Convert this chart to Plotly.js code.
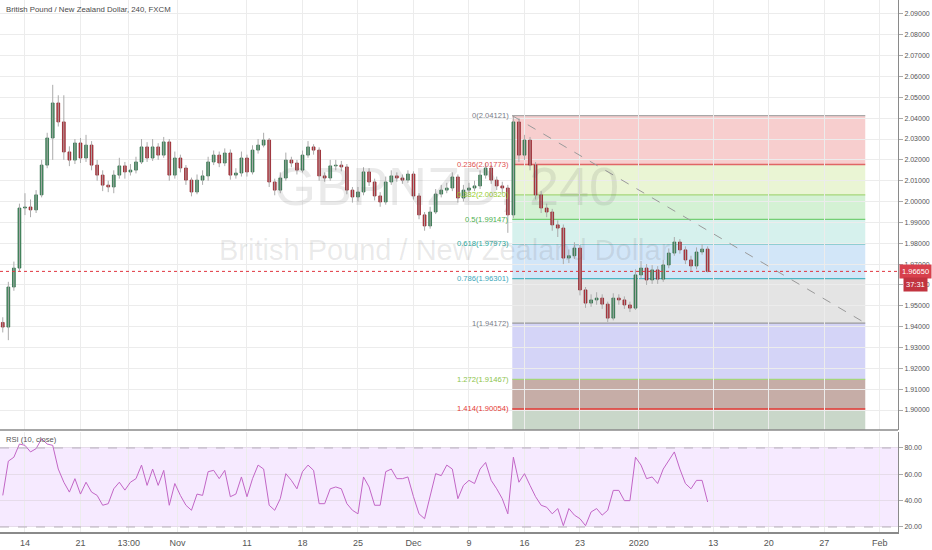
<!DOCTYPE html>
<html><head><meta charset="utf-8">
<script src="https://cdn.plot.ly/plotly-3.0.1.min.js"></script>
<style>html,body{margin:0;padding:0;background:#fff}#chart{width:932px;height:550px}</style>
</head><body><div id="chart"></div>
<script>
// ---- data (12h buckets) ----
const firstSlot = -4;
const openP = [
1.9420,1.9398,1.9590,1.9681,1.9969,1.9974,1.9960,2.0032,2.0175,2.0305,
2.0473,2.0382,2.0238,2.0199,2.0281,2.0209,2.0271,2.0175,2.0127,2.0079,
2.0070,2.0127,2.0171,2.0142,2.0151,2.0190,2.0262,2.0209,2.0262,2.0223,
2.0286,2.0127,2.0209,2.0161,2.0103,2.0046,2.0103,2.0123,2.0190,2.0223,
2.0185,2.0233,2.0127,2.0137,2.0209,2.0142,2.0247,2.0271,2.0295,2.0094,
2.0055,2.0113,2.0199,2.0185,2.0151,2.0223,2.0262,2.0247,2.0123,2.0113,
2.0171,2.0175,2.0166,2.0055,2.0022,2.0046,2.0142,2.0094,2.0027,1.9998,
2.0094,2.0123,2.0113,2.0103,2.0132,2.0027,1.9936,1.9883,1.9950,2.0036,
2.0055,2.0065,2.0118,2.0017,2.0055,2.0065,2.0075,2.0127,2.0161,2.0103,
2.0075,2.0065,1.9936,2.0382,2.0223,2.0295,2.0175,2.0032,1.9969,1.9950,
1.9888,1.9873,1.9729,1.9740,1.9777,1.9576,1.9513,1.9528,1.9537,1.9508,
1.9441,1.9537,1.9528,1.9504,1.9489,1.9648,1.9681,1.9624,1.9672,1.9628,
1.9696,1.9753,1.9806,1.9768,1.9720,1.9691,1.9758,1.9772];
const highP = [
1.9445,1.9615,1.9712,1.9990,2.0040,2.0010,2.0055,2.0200,2.0330,2.0560,
2.0510,2.0510,2.0265,2.0300,2.0305,2.0320,2.0290,2.0200,2.0150,2.0100,
2.0150,2.0210,2.0190,2.0180,2.0215,2.0300,2.0285,2.0300,2.0280,2.0310,
2.0300,2.0240,2.0225,2.0175,2.0115,2.0130,2.0150,2.0215,2.0245,2.0240,
2.0255,2.0250,2.0160,2.0240,2.0225,2.0270,2.0300,2.0330,2.0305,2.0110,
2.0140,2.0235,2.0215,2.0200,2.0245,2.0290,2.0275,2.0260,2.0140,2.0200,
2.0200,2.0195,2.0180,2.0070,2.0070,2.0165,2.0160,2.0110,2.0045,2.0120,
2.0150,2.0140,2.0130,2.0150,2.0145,2.0040,1.9950,1.9975,2.0060,2.0080,
2.0090,2.0140,2.0130,2.0080,2.0090,2.0100,2.0150,2.0185,2.0175,2.0120,
2.0095,2.0080,2.0412,2.0400,2.0320,2.0310,2.0190,2.0050,1.9990,1.9965,
1.9910,1.9890,1.9770,1.9805,1.9790,1.9590,1.9555,1.9565,1.9555,1.9520,
1.9560,1.9555,1.9545,1.9520,1.9675,1.9715,1.9700,1.9695,1.9690,1.9720,
1.9775,1.9830,1.9820,1.9785,1.9740,1.9780,1.9795,1.9785];
const lowP = [
1.9372,1.9335,1.9572,1.9665,1.9935,1.9925,1.9945,2.0020,2.0160,2.0200,
2.0360,2.0200,2.0170,2.0180,2.0185,2.0190,2.0150,2.0100,2.0050,2.0045,
2.0040,2.0110,2.0110,2.0125,2.0135,2.0180,2.0190,2.0195,2.0200,2.0210,
2.0100,2.0110,2.0140,2.0080,2.0025,2.0035,2.0080,2.0100,2.0175,2.0165,
2.0170,2.0105,2.0110,2.0120,2.0120,2.0130,2.0230,2.0260,2.0070,2.0030,
2.0040,2.0100,2.0165,2.0130,2.0140,2.0210,2.0225,2.0100,2.0095,2.0100,
2.0150,2.0145,2.0035,1.9995,2.0000,2.0030,2.0075,2.0005,1.9975,1.9985,
2.0080,2.0095,2.0085,2.0090,2.0010,1.9915,1.9860,1.9870,1.9940,2.0020,
2.0040,2.0050,1.9995,2.0000,2.0040,2.0050,2.0060,2.0110,2.0085,2.0055,
2.0040,1.9850,1.9920,2.0190,2.0200,2.0150,2.0010,1.9945,1.9925,1.9860,
1.9830,1.9700,1.9705,1.9725,1.9550,1.9490,1.9495,1.9505,1.9485,1.9422,
1.9430,1.9505,1.9485,1.9470,1.9480,1.9630,1.9600,1.9605,1.9605,1.9615,
1.9680,1.9740,1.9750,1.9700,1.9665,1.9675,1.9745,1.9660];
const closeP = [
1.9398,1.9590,1.9681,1.9969,1.9974,1.9960,2.0032,2.0175,2.0305,2.0473,
2.0382,2.0238,2.0199,2.0281,2.0209,2.0271,2.0175,2.0127,2.0079,2.0070,
2.0127,2.0171,2.0142,2.0151,2.0190,2.0262,2.0209,2.0262,2.0223,2.0286,
2.0127,2.0209,2.0161,2.0103,2.0046,2.0103,2.0123,2.0190,2.0223,2.0185,
2.0233,2.0127,2.0137,2.0209,2.0142,2.0247,2.0271,2.0295,2.0094,2.0055,
2.0113,2.0199,2.0185,2.0151,2.0223,2.0262,2.0247,2.0123,2.0113,2.0171,
2.0175,2.0166,2.0055,2.0022,2.0046,2.0142,2.0094,2.0027,1.9998,2.0094,
2.0123,2.0113,2.0103,2.0132,2.0027,1.9936,1.9883,1.9950,2.0036,2.0055,
2.0065,2.0118,2.0017,2.0055,2.0065,2.0075,2.0127,2.0161,2.0103,2.0075,
2.0065,1.9936,2.0382,2.0223,2.0295,2.0175,2.0032,1.9969,1.9950,1.9888,
1.9873,1.9729,1.9740,1.9777,1.9576,1.9513,1.9528,1.9537,1.9508,1.9441,
1.9537,1.9528,1.9504,1.9489,1.9648,1.9681,1.9624,1.9672,1.9628,1.9696,
1.9753,1.9806,1.9768,1.9720,1.9691,1.9758,1.9772,1.9665];
const rsiVals = [
44,70,73,83,82,77,79.5,87,83,82,
64,54,46.5,56.7,45,54,46.5,44,36.5,37.7,
49,54,48,54,56.7,67,51.6,64,51.6,63,
36.5,53,44,36.5,32.7,45,44,62,63,56.7,
63,43,45,58,43,56.7,67,64,36.5,32.7,
41.5,60.5,55.4,49,62,67,63,37.7,37.7,49,
50.4,49,37.7,32.7,30,58,50.4,36.5,36.5,62,
64,56.7,56.7,58,43,30,26.3,44,60.5,59,
67,64,41.5,51.6,55.4,53,64,69,55.4,49,
41.5,30,73,54,60.5,51.6,43,36.5,35,30,
34,21,34,29,26.3,21,31.4,34,29,32.7,
47.8,47.8,40,40,73,67,56.7,58,53,64,
70.6,77,64,53,49,55.4,55.4,39];
const tickSlots  = [0,10,18.7,27.5,40,50,60,70,80,90,100,110.6,124,134,144,154];
const tickLabels = ['14','21','13:00','Nov','11','18','25','Dec','9','16','23','2020','13','20','27','Feb'];
const fibRatios = [0,0.236,0.382,0.5,0.618,0.786,1,1.272,1.414,1.618];
const fibPrices = [2.04121,2.01773,2.00320,1.99147,1.97973,1.96301,1.94172,1.91467,1.90054,1.87906];
const fibStartSlot = 87.8, fibEndSlot = 151.4;
const lastPrice = 1.96650;
const countdown = '37:31';
const rsiBands = [20, 80];

// ---- styles ----
const FONT = 'Liberation Sans, Arial, sans-serif';
const fibFill = ['rgba(220,50,50,0.24)','rgba(149,204,40,0.2)','rgba(0,170,0,0.17)','rgba(0,170,140,0.16)',
  'rgba(30,130,220,0.2)','rgba(120,120,120,0.2)','rgba(60,60,220,0.22)','rgba(120,60,45,0.42)','rgba(60,110,60,0.28)'];
const fibLine = ['#a8a8a8','#e06666','#a5d67a','#74cf74','#4db6ac','#4db6c4','#9a9a9a','#a5d67a','#e53935'];
const fibText = ['#787b86','#e05050','#95cc28','#4caf50','#26a69a','#3aa6b9','#787b86','#8bc34a','#e53935'];
const upFill = '#3c8a5a', upLine = '#2b6b45', dnFill = '#bb2c36', dnLine = '#8e1f27';

const slots = closeP.map((_, i) => firstSlot + i);
const wx = [], wy = [];
slots.forEach((s, i) => { wx.push(s, s, null); wy.push(lowP[i], highP[i], null); });
const bodyBase = openP.map((o, i) => Math.min(o, closeP[i]));
const bodyLen = openP.map((o, i) => Math.max(Math.abs(closeP[i] - o), 0.0003));
const isUp = openP.map((o, i) => closeP[i] >= o);

const traces = [
  {type:'scatter', mode:'lines', x:wx, y:wy, line:{color:'#ababab', width:1}, hoverinfo:'skip', xaxis:'x', yaxis:'y'},
  {type:'bar', x:slots, y:bodyLen, base:bodyBase, width:0.5,
    marker:{color:isUp.map(u => u ? upFill : dnFill), line:{color:isUp.map(u => u ? upLine : dnLine), width:0.8}},
    xaxis:'x', yaxis:'y'},
  {type:'scatter', mode:'lines', x:slots, y:rsiVals, line:{color:'#c266c6', width:1}, xaxis:'x2', yaxis:'y2'}
];

const shapes = [];
const annotations = [];
for (let i = 0; i < 9; i++) {
  shapes.push({type:'rect', xref:'x', yref:'y', x0:fibStartSlot, x1:fibEndSlot, y0:fibPrices[i], y1:fibPrices[i+1],
    fillcolor:fibFill[i], line:{width:0}, layer:'below'});
}
for (let i = 0; i < 9; i++) {
  shapes.push({type:'line', xref:'x', yref:'y', x0:fibStartSlot, x1:fibEndSlot, y0:fibPrices[i], y1:fibPrices[i],
    line:{color:fibLine[i], width: (i===1||i===8) ? 1.5 : 1.2}, layer:'below'});
  annotations.push({xref:'x', yref:'y', x:fibStartSlot, y:fibPrices[i], xanchor:'right', yanchor:'middle', xshift:-1,
    text:`${fibRatios[i]}(${fibPrices[i].toFixed(5)})`, showarrow:false, font:{family:FONT, size:7.6, color:fibText[i]}});
}
shapes.push({type:'line', xref:'x', yref:'y', x0:fibStartSlot, x1:fibEndSlot, y0:fibPrices[0], y1:fibPrices[6],
  line:{color:'#9a9a9a', width:1, dash:'dash'}});
shapes.push({type:'rect', xref:'paper', yref:'y2', x0:0, x1:1, y0:rsiBands[0], y1:rsiBands[1],
  fillcolor:'rgba(153,21,255,0.09)', line:{width:0}, layer:'below'});
rsiBands.forEach(v => shapes.push({type:'line', xref:'paper', yref:'y2', x0:0, x1:1, y0:v, y1:v,
  line:{color:'#b8b0bc', width:1, dash:'dash'}}));
shapes.push({type:'line', xref:'paper', yref:'y', x0:0, x1:1, y0:lastPrice, y1:lastPrice,
  line:{color:'#e0353f', width:1, dash:'dot'}});
shapes.push({type:'line', xref:'paper', yref:'paper', x0:0, x1:1, y0:0.1917, y1:0.1917, line:{color:'#8a8a8a', width:1.5}});

annotations.push({xref:'paper', yref:'paper', x:0.497, y:0.650, text:'GBPNZD, 240', showarrow:false,
  font:{family:FONT, size:54, color:'rgba(90,90,90,0.13)'}});
annotations.push({xref:'paper', yref:'paper', x:0.496, y:0.530, text:'British Pound / New Zealand Dollar', showarrow:false,
  font:{family:FONT, size:29, color:'rgba(90,90,90,0.13)'}});
annotations.push({xref:'paper', yref:'paper', x:0.004, y:0.995, xanchor:'left', yanchor:'top',
  text:'British Pound / New Zealand Dollar, 240, FXCM', showarrow:false, font:{family:FONT, size:7.8, color:'#4a4a4a'}});
annotations.push({xref:'paper', yref:'paper', x:0.004, y:0.186, xanchor:'left', yanchor:'top',
  text:'RSI (10, close)', showarrow:false, font:{family:FONT, size:7.6, color:'#555'}});
annotations.push({xref:'paper', yref:'y', x:1, y:lastPrice, xanchor:'left', yanchor:'middle', xshift:1,
  text:lastPrice.toFixed(5), showarrow:false, bgcolor:'#d8404c', borderpad:2,
  font:{family:FONT, size:7.5, color:'#fff'}});
annotations.push({xref:'paper', yref:'y', x:1, y:lastPrice, xanchor:'left', yanchor:'middle', xshift:5, yshift:-13,
  text:countdown, showarrow:false, bgcolor:'#c23440', borderpad:2,
  font:{family:FONT, size:7.5, color:'#fff'}});

const grid = '#ececec';
const layout = {
  width:932, height:550, margin:{l:0, r:34, t:0, b:18},
  paper_bgcolor:'#fff', plot_bgcolor:'#fff', showlegend:false, barmode:'overlay',
  xaxis:{domain:[0,1], anchor:'y', range:[-4.5,157.3], tickvals:tickSlots, showticklabels:false,
    showgrid:true, gridcolor:grid, zeroline:false},
  xaxis2:{domain:[0,1], anchor:'y2', matches:'x', range:[-4.5,157.3], tickvals:tickSlots, ticktext:tickLabels,
    showgrid:true, gridcolor:grid, zeroline:false, showline:true, linecolor:'#8a8a8a', linewidth:1.5,
    tickfont:{family:FONT, size:9, color:'#555'}, ticks:'', ticklabelstandoff:2},
  yaxis:{domain:[0.1917,1], anchor:'x', side:'right', range:[1.8904,2.0967], tick0:1.9, dtick:0.01,
    tickformat:'.5f', showgrid:true, gridcolor:grid, zeroline:false, showline:true, linecolor:'#8a8a8a',
    ticks:'outside', ticklen:4, tickcolor:'#aaa', tickfont:{family:FONT, size:7, color:'#555'}},
  yaxis2:{domain:[0,0.188], anchor:'x2', side:'right', range:[16.2,92.15], tickvals:[20,40,60,80],
    tickformat:'.2f', showgrid:true, gridcolor:'#e6dcea', zeroline:false, showline:true, linecolor:'#8a8a8a',
    ticks:'outside', ticklen:4, tickcolor:'#aaa', tickfont:{family:FONT, size:7, color:'#555'}},
  shapes, annotations
};
Plotly.newPlot('chart', traces, layout, {displayModeBar:false, staticPlot:true});
</script></body></html>
